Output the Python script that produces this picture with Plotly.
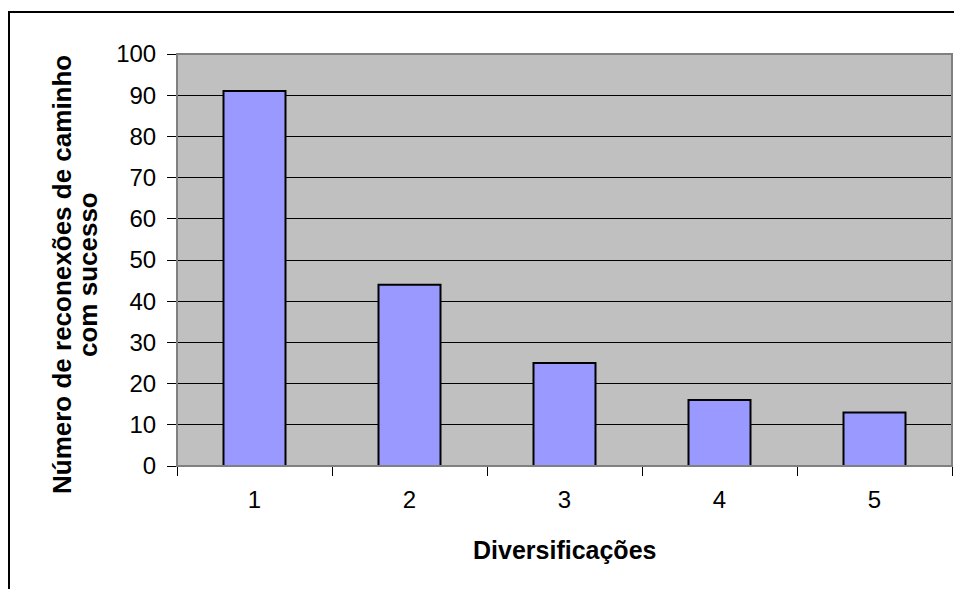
import plotly.graph_objects as go

# Successful path reconnections per number of diversifications
categories = ["1", "2", "3", "4", "5"]
reconnections = [91, 44, 25, 16, 13]
y_ticks = [0, 10, 20, 30, 40, 50, 60, 70, 80, 90, 100]

L, R, T, B = 177, 2, 54, 123
W, H = 954, 589
pw, ph = W - L - R, H - T - B

fig = go.Figure(
    go.Bar(
        x=categories,
        y=reconnections,
        width=0.4,
        marker=dict(color="#9999FF", line=dict(color="black", width=2)),
    )
)

font = dict(family="Liberation Sans, Arial, sans-serif", color="black")

fig.update_layout(
    width=W,
    height=H,
    margin=dict(l=L, r=R, t=T, b=B),
    paper_bgcolor="white",
    plot_bgcolor="#C0C0C0",
    showlegend=False,
    font=dict(**font, size=24),
    xaxis=dict(
        type="category",
        tickson="boundaries",
        ticks="outside",
        ticklen=9,
        tickcolor="black",
        showline=True,
        linecolor="black",
        linewidth=1,
        showgrid=False,
        tickfont=dict(size=24),
        ticklabelstandoff=12,
    ),
    yaxis=dict(
        range=[0, 100],
        tickvals=y_ticks,
        ticks="outside",
        ticklen=9,
        tickcolor="black",
        showline=True,
        linecolor="black",
        linewidth=1,
        showgrid=True,
        gridcolor="black",
        gridwidth=1,
        zeroline=False,
        tickfont=dict(size=24),
        ticklabelstandoff=6,
    ),
)

# axis titles
fig.add_annotation(
    text="<b>Diversificações</b>", xref="paper", yref="paper",
    x=0.5, y=-(550 - 466) / ph, showarrow=False, font=dict(**font, size=25),
    xanchor="center", yanchor="middle",
)
for px, line in [(62, "Número de reconexões de caminho"), (88, "com sucesso")]:
    fig.add_annotation(
        text=f"<b>{line}</b>", xref="paper", yref="paper",
        x=(px - L) / pw, y=(466 - 275) / ph, showarrow=False,
        font=dict(**font, size=26),
        textangle=-90, xanchor="center", yanchor="middle",
    )

# gray frame around the plotting area
fig.add_shape(
    type="rect", xref="paper", yref="paper",
    x0=0, x1=1, y0=0, y1=1,
    line=dict(color="#808080", width=2), layer="above",
)

# outer chart border (left and top edges visible)
fig.add_shape(
    type="rect", xref="paper", yref="paper",
    x0=(9 - L) / pw, x1=(W + 20 - L) / pw,
    y0=-(B + 20) / ph, y1=(H - B - 12) / ph,
    line=dict(color="black", width=2), layer="above",
)

fig.write_html("out.html")
